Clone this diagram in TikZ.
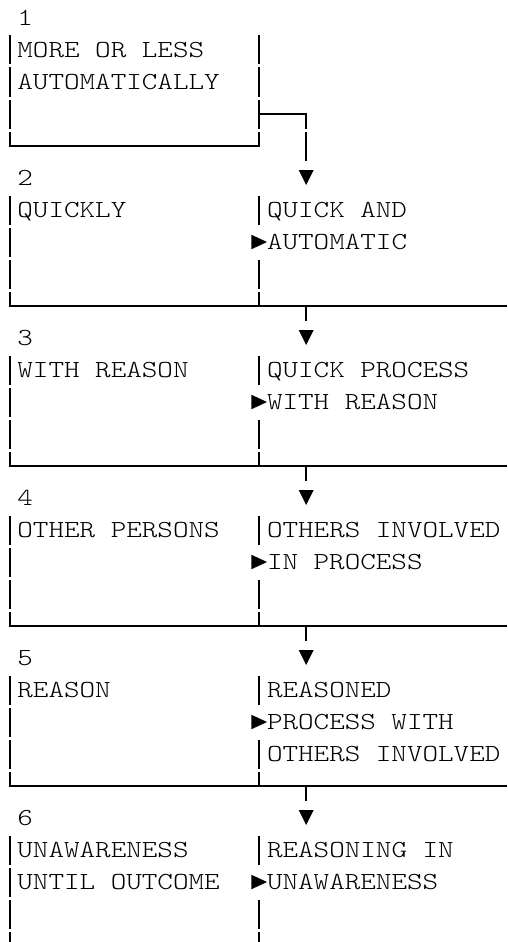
\documentclass[tikz,border=0pt]{standalone}
\usepackage{fontspec}
\newfontfamily\asciifont[FakeStretch=1.21]{Latin Modern Mono Light}
\begin{document}
\begin{tikzpicture}[x=1pt,y=-1pt,
  txt/.style={anchor=base west, inner sep=0pt, outer sep=0pt,
    font=\asciifont\fontsize{24.5}{30}\selectfont, text=black},
  rule/.style={line width=1.8pt},
  headfill/.style={fill=black}]
\useasboundingbox (0,0) rectangle (507,942);

% column positions: left rule, middle rule, arrow column, text starts
\def\xl{9.6}\def\xm{259.2}\def\xa{306.2}
\def\tl{17.4}\def\tr{267.0}\def\pl{251.4}

% ---- step 1 ----
\node[txt] (n1) at (\tl,25.5) {1};
\node[txt] (l1a) at (\tl,57.5) {MORE OR LESS};
\node[txt] (l1b) at (\tl,89.5) {AUTOMATICALLY};
\foreach \r in {50,82,114} {
  \draw[rule] (\xl,\r-14.5) -- (\xl,\r+14.5);
  \draw[rule] (\xm,\r-14.5) -- (\xm,\r+14.5);
}
\draw[rule] (\xl,131.5) -- (\xl,146) -- (\xm,146) -- (\xm,131.5);
% link from step 1 down to step 2
\coordinate (j1) at (\xm,114);
\coordinate (k1) at (\xa,114);
\coordinate (k1b) at (\xa,128.5);
\coordinate (m1a) at (\xa,131.5);
\coordinate (m1b) at (\xa,160.5);
\draw[rule] (j1) -- (k1) -- (k1b);
\draw[rule] (m1a) -- (m1b);

% ---- steps 2 to 6 ----
\foreach \k/\lt/\ra/\rb in {
  2/QUICKLY/QUICK AND/AUTOMATIC,
  3/WITH REASON/QUICK PROCESS/WITH REASON,
  4/OTHER PERSONS/OTHERS INVOLVED/IN PROCESS,
  5/REASON/REASONED/PROCESS WITH,
  6/UNAWARENESS/REASONING IN/UNAWARENESS} {
  \pgfmathsetmacro\c{18+160*(\k-1)}
  \node[txt] (n\k) at (\tl,\c+7.5) {\k};
  \node[txt] (l\k) at (\tl,\c+39.5) {\lt};
  \node[txt] (r\k) at (\tr,\c+39.5) {\ra};
  \node[txt] (p\k) at (\tr,\c+71.5) {\rb};
  % down arrowhead above the step
  \fill[headfill] (\xa-7.5,\c-8) -- (\xa+7.5,\c-8) -- (\xa,\c+7) -- cycle;
  % side arrowhead into the combined result
  \fill[headfill] (\pl,\c+56.75) -- (\pl,\c+71.25) -- (\tr,\c+64) -- cycle;
  % rules of the rows
  \foreach \d in {32,64,96} {
    \draw[rule] (\xl,\c+\d-14.5) -- (\xl,\c+\d+14.5);
  }
  \foreach \d in {32,96} {
    \draw[rule] (\xm,\c+\d-14.5) -- (\xm,\c+\d+14.5);
  }
}
\node[txt] (q5) at (\tr,761.5) {OTHERS INVOLVED};
\node[txt] (u6) at (\tl,889.5) {UNTIL OUTCOME};

% closing lines of steps 2 to 5, with the drop to the next step
\foreach \k in {2,3,4,5} {
  \pgfmathsetmacro\c{18+160*(\k-1)}
  \draw[rule] (\xl,\c+113.5) -- (\xl,\c+128) -- (507,\c+128);
  \draw[rule] (\xm,\c+113.5) -- (\xm,\c+128);
  \draw[rule] (\xa,\c+128) -- (\xa,\c+142.5);
}
% open end of step 6
\draw[rule] (\xl,931.5) -- (\xl,942);
\draw[rule] (\xm,931.5) -- (\xm,942);
\end{tikzpicture}
\end{document}
